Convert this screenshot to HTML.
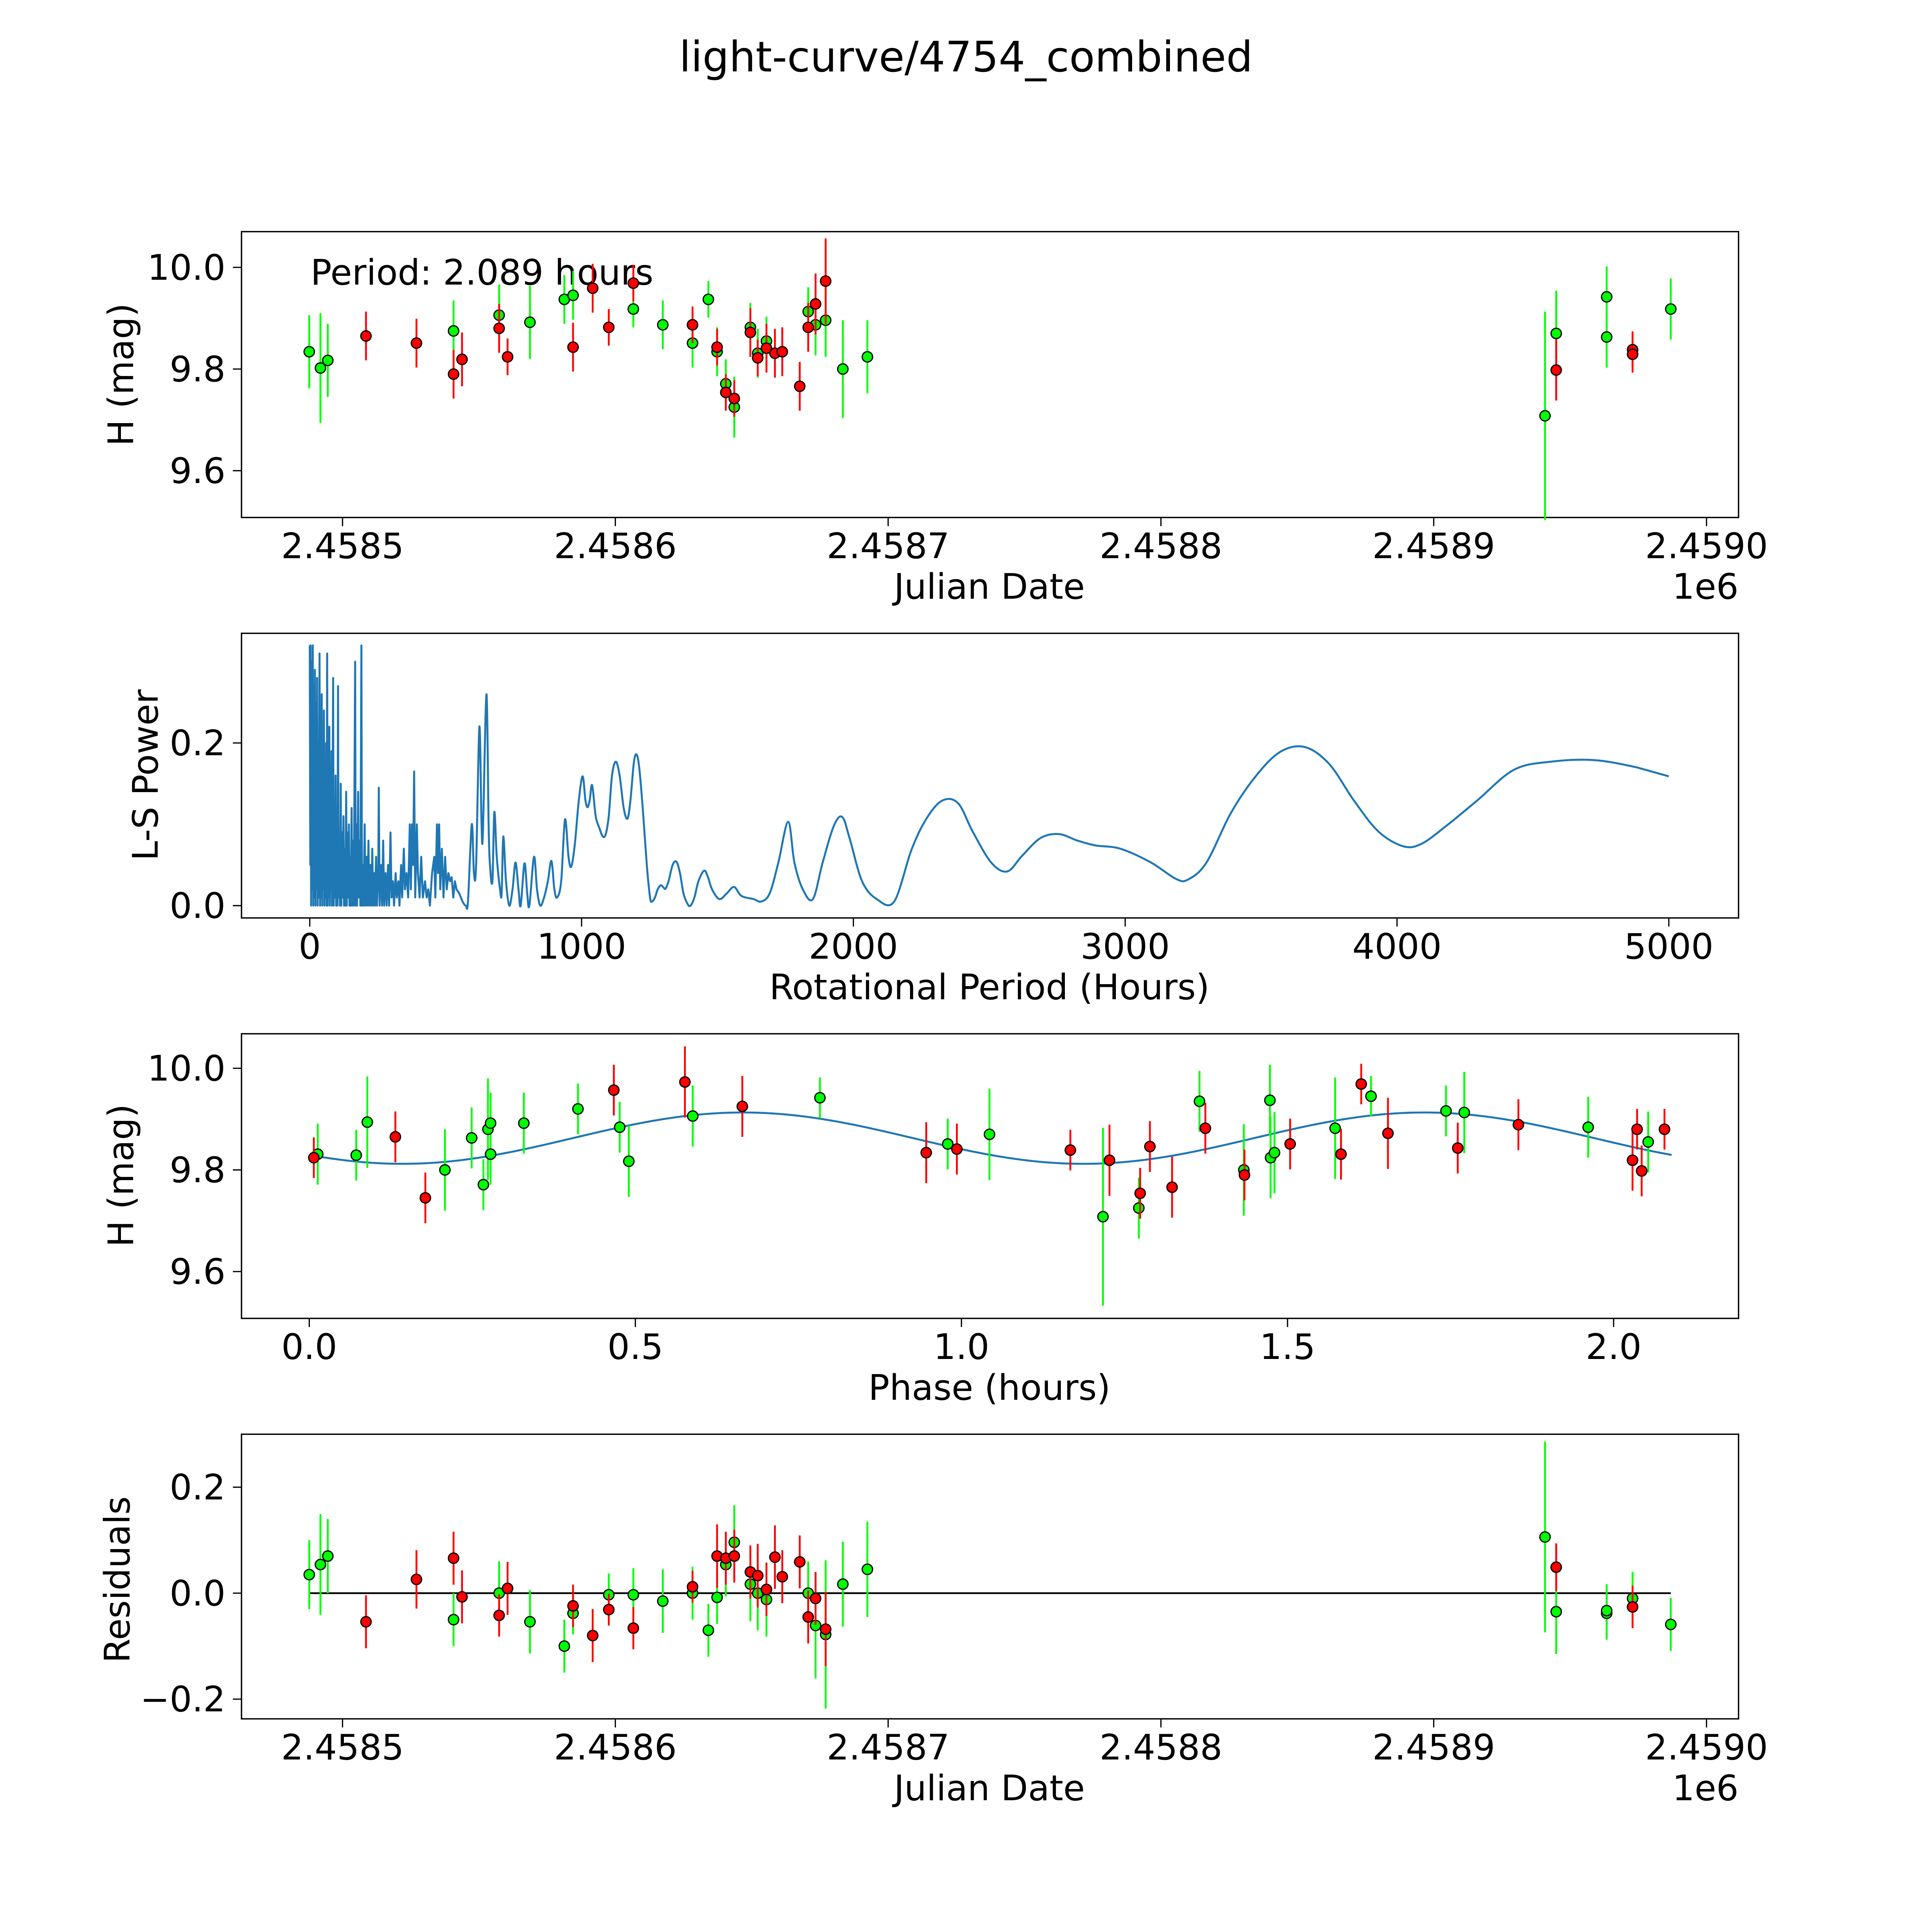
<!DOCTYPE html>
<html><head><meta charset="utf-8"><style>html,body{margin:0;padding:0;background:#fff;overflow:hidden;width:100%;height:100%}svg{display:block;width:100vw;height:100vh}text{font-family:"DejaVu Sans","Liberation Sans",sans-serif;fill:#000}</style></head>
<body>
<svg id="fig" xmlns="http://www.w3.org/2000/svg" viewBox="0 0 1568 1568" preserveAspectRatio="none">
<rect x="0" y="0" width="1568" height="1568" fill="#fff"/>
<text x="784" y="58" font-size="34" text-anchor="middle">light-curve/4754_combined</text>
<g id="plots"></g>
</svg>
<script>
// ---- Panel 1: raw light curve (days from JD 2458500) ----
const p1GreenDays=[-12.2,-8.1,-5.4,40.7,57.4,68.7,81.3,84.5,106.6,117.4,128.3,134.1,137.3,140.5,143.6,149.5,152.2,155.4,170.7,173.4,177.1,183.4,192.4,440.8,444.9,463.4,463.4,486.9];
const p1GreenMag=[9.834,9.802,9.817,9.875,9.906,9.892,9.937,9.945,9.918,9.887,9.851,9.937,9.834,9.771,9.725,9.882,9.831,9.855,9.913,9.887,9.896,9.8,9.824,9.708,9.870,9.942,9.863,9.918];
const p1GreenErr=[0.072,0.108,0.072,0.06,0.06,0.072,0.048,0.048,0.036,0.048,0.048,0.036,0.048,0.048,0.06,0.048,0.048,0.048,0.048,0.06,0.072,0.096,0.072,0.205,0.084,0.06,0.06,0.06];
const p1RedDays=[8.6,27.1,40.7,43.8,57.4,60.5,84.5,91.7,97.6,106.6,128.3,137.3,140.5,143.6,149.5,152.2,155.4,158.5,161.2,167.6,170.7,173.4,177.1,444.9,472.9,472.9];
const p1RedMag=[9.865,9.851,9.79,9.819,9.88,9.824,9.843,9.959,9.882,9.969,9.887,9.843,9.754,9.742,9.872,9.822,9.841,9.831,9.834,9.766,9.882,9.928,9.973,9.798,9.838,9.829];
const p1RedErr=[0.048,0.048,0.048,0.053,0.048,0.036,0.048,0.048,0.036,0.036,0.036,0.036,0.036,0.036,0.048,0.036,0.048,0.048,0.048,0.048,0.048,0.06,0.084,0.06,0.036,0.036];
const jdTicks=[0,100,200,300,400,500];
const jdTickLabels=["2.4585","2.4586","2.4587","2.4588","2.4589","2.4590"];
const magTicks=[9.6,9.8,10.0];
const magTickLabels=["9.6","9.8","10.0"];
// ---- Panel 2: periodogram ----
const lsPeriods=[0,2,3,5,7,9,11,13,15,17,19,21,23,25,27,29,31,33,36,38,40,42,44,46,48,50,52,54,56,58,60,62,64,66,68,70,72,74,76,78,80,82,86,88,90,92,95,97,100,102,104,106,109,111,114,116,119,121,124,126,129,131,134,136,139,141,144,146,149,151,154,156,160,162,167,169,172,174,178,180,184,186,190,192,196,198,202,205,209,212,216,219,223,226,230,233,237,240,244,247,252,254,257,262,266,270,274,279,283,288,292,297,301,306,310,316,320,326,330,336,340,346,350,356,362,368,372,376,380,384,388,394,398,404,410,416,424,430,436,442,450,458,462,468,472,476,480,486,492,498,504,510,516,522,528,534,540,550,562,574,582,596,604,612,624,632,637,650,658,663,672,679,688,700,706,712,722,734,746,757,768,776,790,800,808,825,836,848,862,876,889,900,910,925,939,952,962,975,990,1004,1014,1022,1030,1039,1052,1066,1078,1089,1100,1112,1126,1140,1155,1169,1180,1192,1202,1212,1225,1240,1252,1259,1270,1280,1292,1302,1309,1320,1335,1349,1362,1375,1390,1401,1415,1430,1451,1465,1480,1507,1534,1561,1588,1633,1661,1692,1724,1760,1783,1814,1851,1887,1928,1959,1986,2032,2086,2150,2213,2267,2326,2385,2439,2507,2566,2620,2688,2756,2824,2891,2982,3095,3186,3231,3299,3389,3480,3570,3661,3751,3842,3932,4023,4090,4181,4294,4430,4566,4724,4882,5000];
const lsPower=[0.32,0.05,0.32,0,0.3,0.02,0.32,0,0.27,0.01,0.29,0,0.25,0.02,0.28,0,0.2,0.01,0.31,0,0.22,0.01,0.26,0,0.18,0.02,0.24,0,0.15,0.01,0.2,0,0.31,0,0.17,0.01,0.22,0,0.12,0.02,0.19,0,0.28,0,0.1,0.01,0.16,0,0.11,0,0.27,0.01,0.08,0,0.15,0,0.09,0.01,0.11,0,0.07,0,0.14,0,0.09,0.01,0.1,0,0.06,0,0.12,0,0.08,0,0.30,0,0.1,0,0.14,0.01,0.08,0,0.32,0,0.05,0,0.1,0,0.06,0,0.08,0,0.05,0,0.07,0,0.04,0,0.06,0,0.04,0.145,0,0.05,0,0.08,0,0.04,0,0.05,0,0.09,0.01,0.03,0,0.04,0.01,0.03,0,0.05,0.01,0.07,0.02,0.04,0.01,0.1,0.02,0.1,0.05,0.165,0.01,0.1,0.04,0.01,0.06,0.01,0.03,0.01,0.02,0,0.04,0.06,0.01,0.1,0.04,0.1,0.02,0.07,0.01,0.06,0.02,0.04,0.03,0.035,0.01,0.03,0.02,0.015,0.005,0,0.005,0.1,0.04,0.05,0.22,0.1,0.09,0.26,0.1,0.05,0.03,0.115,0.06,0.02,0.015,0.085,0.03,0,0.02,0.053,0.02,0,0.052,0.015,0,0.06,0.02,0,0.01,0.03,0.055,0.02,0.01,0.03,0.106,0.06,0.048,0.075,0.13,0.159,0.13,0.121,0.13,0.148,0.11,0.095,0.085,0.088,0.11,0.16,0.177,0.16,0.12,0.107,0.13,0.175,0.186,0.17,0.12,0.05,0.01,0.005,0.01,0.02,0.025,0.022,0.021,0.03,0.05,0.054,0.04,0.015,0.002,0,0.01,0.03,0.043,0.035,0.02,0.008,0.015,0.023,0.012,0.008,0.005,0.015,0.053,0.103,0.053,0.02,0.008,0.053,0.098,0.109,0.083,0.03,0.008,0.005,0.068,0.106,0.129,0.126,0.091,0.053,0.042,0.061,0.083,0.088,0.08,0.074,0.07,0.053,0.033,0.032,0.053,0.114,0.159,0.189,0.195,0.174,0.129,0.091,0.073,0.076,0.098,0.129,0.167,0.177,0.179,0.170,0.159];
const lsXTicks=[0,1000,2000,3000,4000,5000];
const lsXTickLabels=["0","1000","2000","3000","4000","5000"];
const lsYTicks=[0,0.2];
const lsYTickLabels=["0.0","0.2"];
// ---- Panel 3: phased light curve ----
const phGreen=[0.013,0.072,0.089,0.208,0.249,0.267,0.274,0.278,0.278,0.329,0.412,0.476,0.49,0.588,0.783,0.979,1.043,1.217,1.272,1.365,1.433,1.473,1.474,1.48,1.573,1.628,1.743,1.771,1.961,2.053];
const phGreenMag=[9.831,9.829,9.894,9.8,9.863,9.771,9.88,9.831,9.892,9.892,9.92,9.884,9.817,9.906,9.942,9.851,9.87,9.708,9.725,9.935,9.8,9.937,9.824,9.834,9.882,9.945,9.916,9.913,9.884,9.855];
const phGreenErr=[0.06,0.05,0.09,0.08,0.06,0.05,0.1,0.06,0.06,0.06,0.05,0.05,0.07,0.06,0.04,0.05,0.09,0.175,0.06,0.06,0.09,0.07,0.08,0.08,0.1,0.04,0.05,0.08,0.06,0.06];
const phRed=[0.007,0.132,0.178,0.467,0.576,0.664,0.946,0.993,1.167,1.227,1.274,1.289,1.323,1.374,1.434,1.504,1.582,1.613,1.654,1.761,1.854,2.029,2.036,2.043,2.078];
const phRedMag=[9.824,9.865,9.745,9.957,9.973,9.925,9.834,9.841,9.839,9.819,9.754,9.846,9.766,9.882,9.79,9.851,9.831,9.969,9.872,9.843,9.889,9.819,9.88,9.798,9.88];
const phRedErr=[0.04,0.05,0.05,0.05,0.07,0.06,0.06,0.05,0.04,0.07,0.05,0.05,0.06,0.05,0.05,0.05,0.05,0.04,0.07,0.05,0.05,0.06,0.04,0.05,0.04];
const modelMean=[9.8625];
const modelAmp=[0.0505];
const modelPeriod=[2.089];
const modelMaxPhase=[0.665];
const phTicks=[0,0.5,1.0,1.5,2.0];
const phTickLabels=["0.0","0.5","1.0","1.5","2.0"];
// ---- Panel 4: residuals ----
const resGreenDays=[-12.2,-8.1,-5.4,40.7,57.4,68.7,81.3,84.5,97.6,106.6,117.4,128.3,134.1,137.3,140.5,143.6,149.5,152.2,155.4,170.7,173.4,177.1,183.4,192.4,440.8,444.9,463.4,463.4,472.9,486.9];
const resGreen=[0.035,0.054,0.07,-0.05,0,-0.054,-0.1,-0.038,-0.003,-0.003,-0.015,0,-0.07,-0.008,0.054,0.096,0.017,0,-0.012,0,-0.061,-0.078,0.017,0.045,0.106,-0.035,-0.038,-0.033,-0.01,-0.059];
const resGreenErr=[0.065,0.095,0.07,0.05,0.06,0.06,0.05,0.04,0.04,0.05,0.06,0.05,0.05,0.05,0.06,0.07,0.07,0.07,0.07,0.06,0.1,0.14,0.08,0.09,0.18,0.08,0.05,0.05,0.05,0.05];
const resRedDays=[8.6,27.1,40.7,43.8,57.4,60.5,84.5,91.7,97.6,106.6,128.3,137.3,140.5,143.6,149.5,152.2,155.4,158.5,161.2,167.6,170.7,173.4,177.1,444.9,472.9];
const resRed=[-0.054,0.026,0.066,-0.007,-0.042,0.009,-0.024,-0.08,-0.031,-0.066,0.012,0.07,0.066,0.07,0.04,0.033,0.007,0.068,0.031,0.059,-0.045,-0.01,-0.068,0.049,-0.026];
const resRedErr=[0.05,0.055,0.05,0.05,0.04,0.05,0.04,0.05,0.03,0.04,0.03,0.06,0.05,0.05,0.05,0.06,0.05,0.06,0.05,0.05,0.05,0.05,0.07,0.045,0.04];
const resTicks=[-0.2,0,0.2];
const resTickLabels=["\u22120.2","0.0","0.2"];

const NS="http://www.w3.org/2000/svg";
const root=document.getElementById('plots');
function mk(tag,attrs,parent){const e=document.createElementNS(NS,tag);for(const k in attrs)e.setAttribute(k,attrs[k]);(parent||root).appendChild(e);return e;}
const L=196,R=1411;
const panels=[{top:188,bot:420},{top:514,bot:745},{top:839,bot:1070},{top:1164,bot:1395}];
const xJD=d=>278+d*2.214;
const xLS=h=>251.4+h*0.2206;
const xPH=p=>251+p*529.3;
const yMag1=v=>217+(10-v)*412.5;
const yLS=p=>735-p*660;
const yMag3=v=>867+(10-v)*412.5;
const yRes=r=>1293-r*430;

function frame(i,name){
  const p=panels[i];
  const g=mk('g',{});
  
  
  const r=mk('rect',{x:L,y:p.top,width:R-L,height:p.bot-p.top,fill:'none',stroke:'#000','stroke-width':1.1},g);
  
  
  return g;
}
function xticks(g,i,vals,labels,sx,name){
  const p=panels[i];
  vals.forEach((v,k)=>{
    const x=sx(v);
    const t=mk('line',{x1:x,x2:x,y1:p.bot,y2:p.bot+7,stroke:'#000','stroke-width':1},g);
    
    
    const tx=mk('text',{x:x,y:p.bot+33,'font-size':28.5,'text-anchor':'middle'},g);
    tx.textContent=labels[k];
    
    
  });
}
function yticks(g,i,vals,labels,sy,name){
  vals.forEach((v,k)=>{
    const y=sy(v);
    const t=mk('line',{x1:L-7,x2:L,y1:y,y2:y,stroke:'#000','stroke-width':1},g);
    
    
    const tx=mk('text',{x:L-13,y:y+10,'font-size':28.5,'text-anchor':'end'},g);
    tx.textContent=labels[k];
    
    
  });
}
function label(g,txt,x,y,rot,name){
  const t=mk('text',{x:x,y:y,'font-size':28.5,'text-anchor':'middle'},g);
  if(rot)t.setAttribute('transform','rotate(-90 '+x+' '+y+')');
  t.textContent=txt;
  
  
}
function points(g,xs,ys,es,sx,sy,color,name){
  const gb=mk('g',{},g);
  xs.forEach((xv,k)=>{
    const x=sx(xv);
    const l=mk('line',{x1:x,x2:x,y1:sy(ys[k]+es[k]),y2:sy(ys[k]-es[k]),stroke:color,'stroke-width':1.5},gb);
    
    
  });
  xs.forEach((xv,k)=>{
    const c=mk('circle',{cx:sx(xv),cy:sy(ys[k]),r:4.2,fill:color,stroke:'#000','stroke-width':1},gb);
    
    
  });
}
// Panel 1
let g=frame(0,'raw-lightcurve-panel');
xticks(g,0,jdTicks,jdTickLabels,xJD,'p1-x');
yticks(g,0,magTicks,magTickLabels,yMag1,'p1-y');
label(g,'Julian Date',803,486,false,'p1-x-axis-title');
label(g,'H (mag)',108,304,true,'p1-y-axis-title');
let oe=mk('text',{x:1411,y:486,'font-size':28.5,'text-anchor':'end'},g);oe.textContent='1e6';


let pt=mk('text',{x:252,y:231,'font-size':28.5},g);pt.textContent='Period: 2.089 hours';


points(g,p1GreenDays,p1GreenMag,p1GreenErr,xJD,yMag1,'#00ff00','p1-green');
points(g,p1RedDays,p1RedMag,p1RedErr,xJD,yMag1,'#ff0000','p1-red');
// Panel 2
g=frame(1,'periodogram-panel');
xticks(g,1,lsXTicks,lsXTickLabels,xLS,'p2-x');
yticks(g,1,lsYTicks,lsYTickLabels,yLS,'p2-y');
label(g,'Rotational Period (Hours)',803,811,false,'p2-x-axis-title');
label(g,'L-S Power',128,629,true,'p2-y-axis-title');
const P=lsPeriods.map((h,k)=>[xLS(h),yLS(lsPower[k])]);
let d='M'+P[0][0].toFixed(2)+' '+P[0][1].toFixed(2);
for(let k=1;k<P.length;k++){
  if(lsPeriods[k]>570&&k+1<P.length){
    const p0=P[k-2]||P[k-1],p1=P[k-1],p2=P[k],p3=P[k+1];
    const c1x=p1[0]+(p2[0]-p0[0])/6,c1y=p1[1]+(p2[1]-p0[1])/6;
    const c2x=p2[0]-(p3[0]-p1[0])/6,c2y=p2[1]-(p3[1]-p1[1])/6;
    d+='C'+c1x.toFixed(2)+' '+c1y.toFixed(2)+' '+c2x.toFixed(2)+' '+c2y.toFixed(2)+' '+p2[0].toFixed(2)+' '+p2[1].toFixed(2);
  } else d+='L'+P[k][0].toFixed(2)+' '+P[k][1].toFixed(2);
}
const pl=mk('path',{d:d,fill:'none',stroke:'#1f77b4','stroke-width':1.6,'stroke-linejoin':'round'},g);


// Panel 3
g=frame(2,'phased-lightcurve-panel');
xticks(g,2,phTicks,phTickLabels,xPH,'p3-x');
yticks(g,2,magTicks,magTickLabels,yMag3,'p3-y');
label(g,'Phase (hours)',803,1136,false,'p3-x-axis-title');
label(g,'H (mag)',108,954,true,'p3-y-axis-title');
d='';
for(let k=0;k<=300;k++){const ph=modelPeriod[0]*k/300;const v=modelMean[0]+modelAmp[0]*Math.cos(2*Math.PI*(ph-modelMaxPhase[0])/(modelPeriod[0]/2));d+=(k?'L':'M')+xPH(ph).toFixed(2)+' '+yMag3(v).toFixed(2);}
const ml=mk('path',{d:d,fill:'none',stroke:'#1f77b4','stroke-width':1.6},g);


points(g,phGreen,phGreenMag,phGreenErr,xPH,yMag3,'#00ff00','p3-green');
points(g,phRed,phRedMag,phRedErr,xPH,yMag3,'#ff0000','p3-red');
// Panel 4
g=frame(3,'residuals-panel');
xticks(g,3,jdTicks,jdTickLabels,xJD,'p4-x');
yticks(g,3,resTicks,resTickLabels,yRes,'p4-y');
label(g,'Julian Date',803,1461,false,'p4-x-axis-title');
label(g,'Residuals',105,1282,true,'p4-y-axis-title');
oe=mk('text',{x:1411,y:1461,'font-size':28.5,'text-anchor':'end'},g);oe.textContent='1e6';


const zl=mk('line',{x1:xJD(-12.2),x2:xJD(486.9),y1:yRes(0),y2:yRes(0),stroke:'#000','stroke-width':1.4},g);


points(g,resGreenDays,resGreen,resGreenErr,xJD,yRes,'#00ff00','p4-green');
points(g,resRedDays,resRed,resRedErr,xJD,yRes,'#ff0000','p4-red');
</script>
</body></html>
